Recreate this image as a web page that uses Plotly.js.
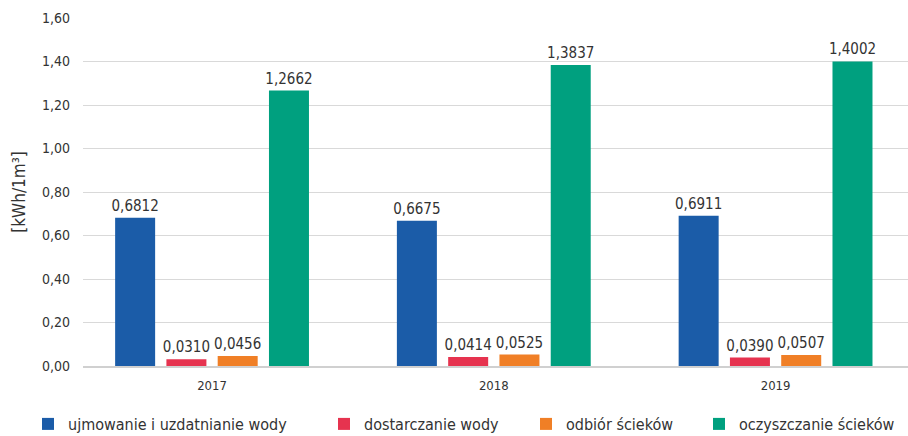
<!DOCTYPE html>
<html>
<head>
<meta charset="utf-8">
<script src="https://cdn.plot.ly/plotly-3.0.1.min.js"></script>
<style>html,body{margin:0;padding:0;background:#fff;}#chart{width:908px;height:436px;}</style>
</head>
<body>
<div id="chart"></div>
<script>
const years = ["2017", "2018", "2019"];
const seriesNames = ["ujmowanie i uzdatnianie wody", "dostarczanie wody", "odbiór ścieków", "oczyszczanie ścieków"];
const ujmowanie = [0.6812, 0.6675, 0.6911];
const dostarczanie = [0.0310, 0.0414, 0.0390];
const odbior = [0.0456, 0.0525, 0.0507];
const oczyszczanie = [1.2662, 1.3837, 1.4002];
const colors = ["#1b5ca8", "#e6334f", "#f07f26", "#00a07f"];
const yTicks = [0, 0.2, 0.4, 0.6, 0.8, 1.0, 1.2, 1.4, 1.6];

const FONT = "'DejaVu Sans Condensed', 'Liberation Sans Narrow', 'Arial Narrow', sans-serif";
const legendIds = ["legend", "legend2", "legend3", "legend4"];
const legendLeftPx = [42, 338, 540, 713];

const allValues = [ujmowanie, dostarczanie, odbior, oczyszczanie];
const traces = allValues.map((vals, i) => ({
  type: "bar",
  name: seriesNames[i],
  legend: legendIds[i],
  x: years,
  y: vals,
  marker: {color: colors[i]},
  texttemplate: "%{y:.4f}",
  textposition: "outside",
  constraintext: "none",
  cliponaxis: false,
  textfont: {family: FONT, size: 15, color: "#333"},
  hoverinfo: "none"
}));

const ML = 83, PW = 825;
const layout = {
  width: 908, height: 436,
  margin: {l: ML, r: 0, t: 18, b: 70},
  paper_bgcolor: "#fff", plot_bgcolor: "#fff",
  separators: ", ",
  font: {family: FONT, color: "#333"},
  barmode: "group",
  bargap: 0.272,
  bargroupgap: 0.22,
  xaxis: {
    type: "category",
    range: [-0.458, 2.47],
    showline: true, linecolor: "#d0d0d0", linewidth: 2,
    ticks: "", tickfont: {family: FONT, size: 13, color: "#333"},
    ticklabelstandoff: 6,
    showgrid: false, automargin: false
  },
  yaxis: {
    range: [0, 1.6],
    tickvals: yTicks,
    tickformat: ".2f",
    tickfont: {family: FONT, size: 14, color: "#333"},
    gridcolor: "#d9d9d9", gridwidth: 1,
    zeroline: false,
    ticklabelstandoff: 12,
    automargin: false,
    title: {text: "[kWh/1m³]", font: {family: FONT, size: 17, color: "#333"}, standoff: 12}
  },
  showlegend: true
};
legendIds.forEach((id, i) => {
  layout[id] = {
    orientation: "h",
    x: (legendLeftPx[i] - 14 - ML) / PW, xanchor: "left",
    yref: "container", y: 12 / 436, yanchor: "middle",
    font: {family: FONT, size: 16, color: "#333"},
    bgcolor: "rgba(0,0,0,0)", borderwidth: 0
  };
});

Plotly.newPlot("chart", traces, layout, {displayModeBar: false, staticPlot: true});
</script>
</body>
</html>
